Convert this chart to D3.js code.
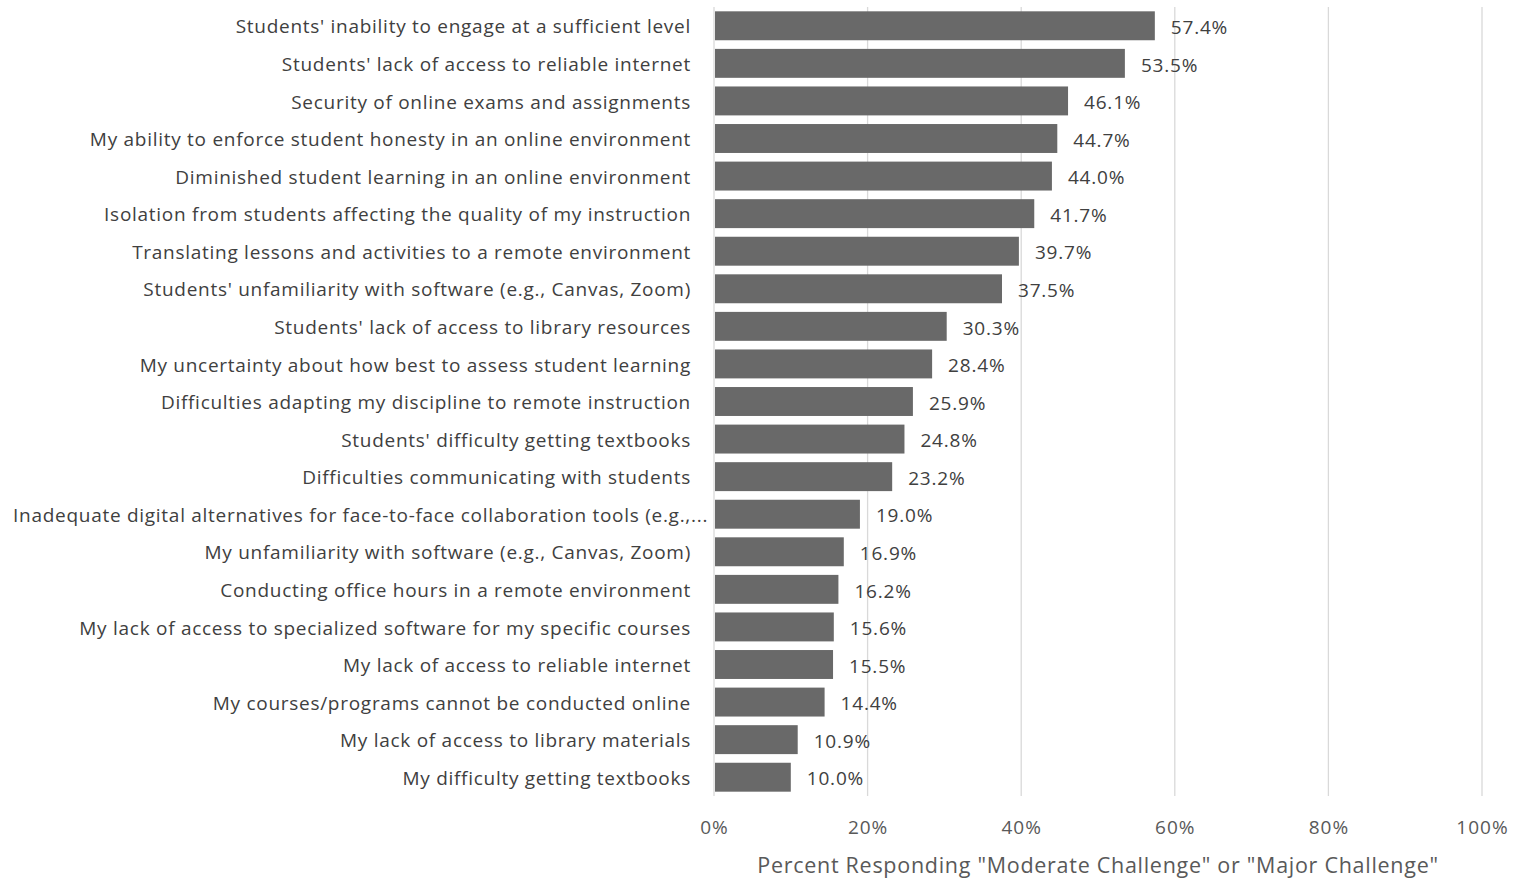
<!DOCTYPE html>
<html><head><meta charset="utf-8">
<script src="https://cdn.jsdelivr.net/npm/d3@7"></script>
<style>body{margin:0;background:#fff;} svg{display:block;}</style>
</head><body>
<script>
const categories = [
  "Students' inability to engage at a sufficient level",
  "Students' lack of access to reliable internet",
  "Security of online exams and assignments",
  "My ability to enforce student honesty in an online environment",
  "Diminished student learning in an online environment",
  "Isolation from students affecting the quality of my instruction",
  "Translating lessons and activities to a remote environment",
  "Students' unfamiliarity with software (e.g., Canvas, Zoom)",
  "Students' lack of access to library resources",
  "My uncertainty about how best to assess student learning",
  "Difficulties adapting my discipline to remote instruction",
  "Students' difficulty getting textbooks",
  "Difficulties communicating with students",
  "Inadequate digital alternatives for face-to-face collaboration tools (e.g.,...",
  "My unfamiliarity with software (e.g., Canvas, Zoom)",
  "Conducting office hours in a remote environment",
  "My lack of access to specialized software for my specific courses",
  "My lack of access to reliable internet",
  "My courses/programs cannot be conducted online",
  "My lack of access to library materials",
  "My difficulty getting textbooks"
];
const values = [57.4,53.5,46.1,44.7,44.0,41.7,39.7,37.5,30.3,28.4,25.9,24.8,23.2,19.0,16.9,16.2,15.6,15.5,14.4,10.9,10.0];
const xTicks = [0,20,40,60,80,100];
const xTitle = 'Percent Responding "Moderate Challenge" or "Major Challenge"';

const W = 1520, H = 879;
const mL = 714, mR = 1482, mT = 7, mB = 796;
const font = "'Open Sans', sans-serif";

const svg = d3.select("body").append("svg").attr("width", W).attr("height", H);

const x = d3.scaleLinear().domain([0,100]).range([mL,mR]);
const y = d3.scaleBand().domain(categories).range([mT,mB]).paddingInner(0.23).paddingOuter(0.115);

// gridlines
svg.append("g").selectAll("line").data(xTicks).join("line")
  .attr("x1", d=>x(d)).attr("x2", d=>x(d))
  .attr("y1", mT).attr("y2", mB)
  .attr("stroke", "#d9d9d9").attr("stroke-width", 1.3);

// bars
svg.append("g").selectAll("rect").data(values).join("rect")
  .attr("x", x(0)+1)
  .attr("y", (d,i)=>y(categories[i]))
  .attr("width", d=>x(d)-x(0)-1)
  .attr("height", y.bandwidth())
  .attr("fill", "#696969");

// value labels
svg.append("g").selectAll("text").data(values).join("text")
  .attr("x", d=>x(d)+16)
  .attr("y", (d,i)=>y(categories[i])+y.bandwidth()/2+1.5)
  .attr("dy", "0.35em")
  .attr("font-family", font).attr("font-size", 19)
  .attr("letter-spacing", 0.8)
  .attr("fill", "#404040")
  .text(d=>d.toFixed(1)+"%");

// category labels
const LS = 0.72;
const catText = svg.append("g").selectAll("text").data(categories).join("text")
  .attr("x", mL-23)
  .attr("y", d=>y(d)+y.bandwidth()/2+1)
  .attr("dy", "0.35em")
  .attr("text-anchor", "end")
  .attr("font-family", font).attr("font-size", 19)
  .attr("letter-spacing", LS)
  .attr("fill", "#404040")
  .text(d=>d);
// truncated labels: the ellipsis overflows past the anchor
catText.filter(d=>d.endsWith("...")).each(function(d){
  const t = d3.select(this);
  const tmp = svg.append("text").attr("font-family", font).attr("font-size", 19).attr("letter-spacing",LS).text("...");
  const w = tmp.node().getComputedTextLength();
  tmp.remove();
  t.attr("x", mL-23+w);
});

// x axis tick labels
const ax = svg.append("g").attr("transform", `translate(0,${mB})`)
  .call(d3.axisBottom(x).tickValues(xTicks).tickFormat(d=>d+"%").tickSize(0).tickPadding(25));
ax.select(".domain").remove();
ax.selectAll("text").attr("font-family", font).attr("font-size", 19).attr("letter-spacing", 1).attr("fill", "#595959");

// axis title
svg.append("text")
  .attr("x", (mL+mR)/2).attr("y", 865).attr("dy","0.35em")
  .attr("text-anchor", "middle")
  .attr("font-family", font).attr("font-size", 21.5)
  .attr("letter-spacing", 0.72)
  .attr("fill", "#595959")
  .text(xTitle);
</script>
</body></html>
